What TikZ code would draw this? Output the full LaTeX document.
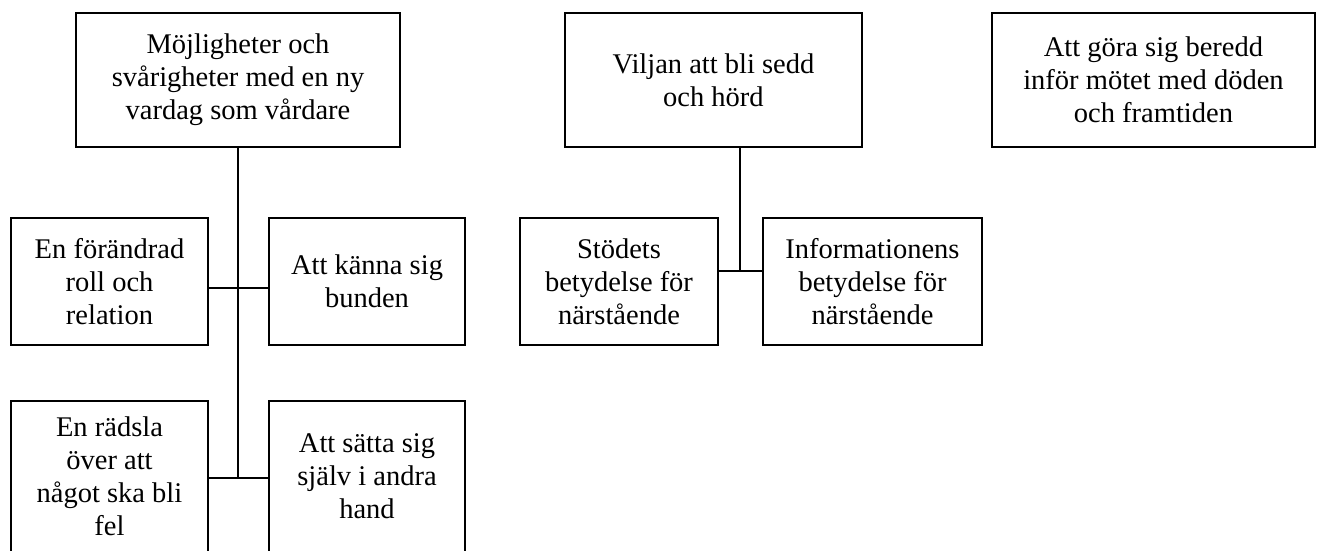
\documentclass[tikz,border=0pt]{standalone}
\usepackage{fontspec}
\setmainfont{Liberation Serif}
\begin{document}
\begin{tikzpicture}[x=1pt,y=-1pt,
            theme/.style={draw=black, line width=2pt, align=center, inner sep=0pt,
                font=\fontsize{28.5}{33}\selectfont},
            link/.style={black, line width=2.2pt}]
            \useasboundingbox (0,0) rectangle (1318,550);
            \node[theme, minimum width=324pt, minimum height=134pt] (vardag) at (238,80) {Möjligheter och\\svårigheter med en ny\\vardag som vårdare};
            \node[theme, minimum width=297pt, minimum height=134pt] (vilja) at (713.5,80) {Viljan att bli sedd\\och hörd};
            \node[theme, minimum width=323pt, minimum height=134pt] (beredd) at (1153.5,80) {Att göra sig beredd\\inför mötet med döden\\och framtiden};
            \node[theme, minimum width=197pt, minimum height=127pt] (roll) at (109.5,281.5) {En förändrad\\roll och\\relation};
            \node[theme, minimum width=196pt, minimum height=127pt] (bunden) at (367,281.5) {Att känna sig\\bunden};
            \node[theme, minimum width=197pt, minimum height=151pt] (radsla) at (109.5,476.5) {En rädsla\\över att\\något ska bli\\fel};
            \node[theme, minimum width=196pt, minimum height=151pt] (hand) at (367,476.5) {Att sätta sig\\själv i andra\\hand};
            \node[theme, minimum width=198pt, minimum height=127pt] (stod) at (619,281.5) {Stödets\\betydelse för\\närstående};
            \node[theme, minimum width=219pt, minimum height=127pt] (info) at (872.5,281.5) {Informationens\\betydelse för\\närstående};
            \coordinate (j1) at (238,288);
            \coordinate (j2) at (238,478);
            \coordinate (j3) at (740,271);
            \draw[link] (vardag.south) -- (j2);
            \draw[link] (roll.east |- j1) -- (bunden.west |- j1);
            \draw[link] (radsla.east |- j2) -- (hand.west |- j2);
            \draw[link] (vilja.south -| j3) -- (j3);
            \draw[link] (stod.east |- j3) -- (info.west |- j3);
        \end{tikzpicture}
\end{document}
